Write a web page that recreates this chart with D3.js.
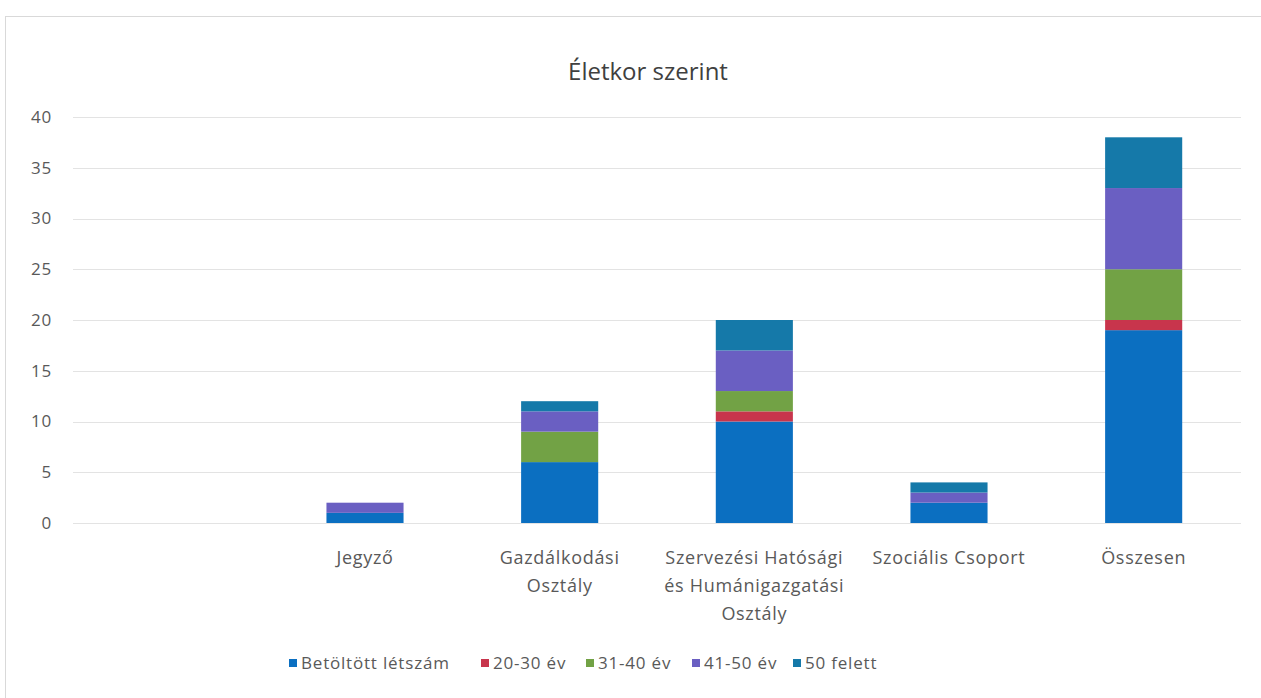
<!doctype html>
<html>
<head>
    <meta charset="utf-8">
    <title>Életkor szerint</title>
    <style>
        body { margin: 0; background: #fff; }
        svg { display: block; }
    </style>
</head>
<body>
    <script src="https://d3js.org/d3.v7.min.js"></script>
    <script>
        // Data
        var categories = ["", "Jegyző", "Gazdálkodási Osztály", "Szervezési Hatósági és Humánigazgatási Osztály", "Szociális Csoport", "Összesen"];
        var seriesNames = ["Betöltött létszám", "20-30 év", "31-40 év", "41-50 év", "50 felett"];
        var betoltott = [0, 1, 6, 10, 2, 19];
        var ev20_30   = [0, 0, 0, 1, 0, 1];
        var ev31_40   = [0, 0, 3, 2, 0, 5];
        var ev41_50   = [0, 1, 2, 4, 1, 8];
        var felett50  = [0, 0, 1, 3, 1, 5];
        var yTicks = [0, 5, 10, 15, 20, 25, 30, 35, 40];
        var colors = ["#0b6fc1", "#c8354c", "#72a245", "#6a5fc2", "#1579a9"];

        // Width and height
        var w = 1261, h = 698;
        var margin = { top: 117, right: 20, bottom: 175, left: 73 };
        var font = "'Open Sans', sans-serif";

        var svg = d3.select("body").append("svg")
            .attr("width", w)
            .attr("height", h)
            .style("font-family", font);

        // chart frame
        svg.append("rect")
            .attr("x", 5.5).attr("y", 16.5)
            .attr("width", w + 20).attr("height", h)
            .attr("fill", "none").attr("stroke", "#d9d9d9");

        var table = categories.map(function (c, i) {
            return {
                cat: c,
                "Betöltött létszám": betoltott[i],
                "20-30 év": ev20_30[i],
                "31-40 év": ev31_40[i],
                "41-50 év": ev41_50[i],
                "50 felett": felett50[i]
            };
        });
        var stacked = d3.stack().keys(seriesNames)(table);

        var x = d3.scaleBand()
            .domain(d3.range(categories.length))
            .range([margin.left, 1241])
            .paddingInner(0.604)
            .paddingOuter(0.302);

        var y = d3.scaleLinear()
            .domain([0, 40])
            .range([h - margin.bottom, margin.top]);

        var color = d3.scaleOrdinal().domain(seriesNames).range(colors);

        // gridlines
        svg.append("g")
            .selectAll("line")
            .data(yTicks)
            .enter().append("line")
            .attr("x1", margin.left).attr("x2", 1241)
            .attr("y1", function (d) { return Math.round(y(d)) + 0.5; })
            .attr("y2", function (d) { return Math.round(y(d)) + 0.5; })
            .attr("stroke", "#e3e3e3");

        // y axis labels
        var yAxis = d3.axisLeft(y).tickValues(yTicks).tickSize(0).tickPadding(0);
        var yg = svg.append("g")
            .attr("transform", "translate(52,0)")
            .call(yAxis);
        yg.select(".domain").remove();
        yg.selectAll("text")
            .attr("fill", "#595959")
            .style("font-size", "17px")
            .style("letter-spacing", "0.8px")
            .style("font-family", font);

        // bars
        svg.append("g")
            .selectAll("g")
            .data(stacked)
            .enter().append("g")
            .attr("fill", function (d) { return color(d.key); })
            .selectAll("rect")
            .data(function (d) { return d; })
            .enter().append("rect")
            .attr("x", function (d, i) { return x(i); })
            .attr("y", function (d) { return y(d[1]); })
            .attr("width", x.bandwidth())
            .attr("height", function (d) { return y(d[0]) - y(d[1]); });

        // x labels
        var xLabels = [[], ["Jegyző"], ["Gazdálkodási", "Osztály"],
            ["Szervezési Hatósági", "és Humánigazgatási", "Osztály"],
            ["Szociális Csoport"], ["Összesen"]];
        svg.append("g")
            .selectAll("text")
            .data(xLabels)
            .enter().append("text")
            .attr("text-anchor", "middle")
            .attr("fill", "#595959")
            .style("font-size", "18px")
            .style("letter-spacing", "0.7px")
            .attr("transform", function (d, i) {
                return "translate(" + (x(i) + x.bandwidth() / 2) + ",564)";
            })
            .selectAll("tspan")
            .data(function (d) { return d; })
            .enter().append("tspan")
            .attr("x", 0)
            .attr("dy", function (d, i) { return i === 0 ? 0 : 28; })
            .text(function (d) { return d; });

        // title
        svg.append("text")
            .attr("x", 648).attr("y", 80)
            .attr("text-anchor", "middle")
            .attr("fill", "#404040")
            .style("font-size", "24px")
            .text("Életkor szerint");

        // legend
        var legendX = [289, 481, 586, 692, 793];
        var legend = svg.append("g")
            .selectAll("g")
            .data(seriesNames)
            .enter().append("g")
            .attr("transform", function (d, i) { return "translate(" + legendX[i] + ",664)"; });
        legend.append("rect")
            .attr("x", 0).attr("y", -5)
            .attr("width", 8).attr("height", 8)
            .attr("fill", function (d) { return color(d); });
        legend.append("text")
            .attr("x", 12).attr("y", 5)
            .attr("fill", "#595959")
            .style("font-size", "17px")
            .style("letter-spacing", "0.8px")
            .text(function (d) { return d; });
    </script>
</body>
</html>
